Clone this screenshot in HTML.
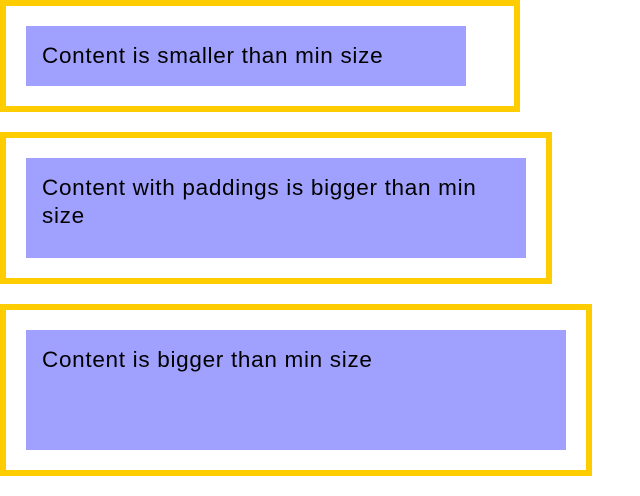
<!DOCTYPE html>
<html><head><style>
body{margin:0;width:640px;height:496px;background:#fff;position:relative;overflow:hidden;font-family:"Liberation Sans",sans-serif;}
.o{position:absolute;border:6px solid #ffcc00;box-sizing:border-box;left:0;}
.b{position:absolute;background:#a0a0ff;box-sizing:border-box;padding:16px 16px;font-size:22.5px;line-height:28px;letter-spacing:0.7px;color:#000;white-space:nowrap;left:26px;}
</style></head><body>
<div class="o" style="top:0;width:520px;height:112px"></div>
<div class="b" style="top:26px;width:440px;height:60px">Content is smaller than min size</div>
<div class="o" style="top:132px;width:552px;height:152px"></div>
<div class="b" style="top:158px;width:500px;height:100px">Content with paddings is bigger than min<br>size</div>
<div class="o" style="top:304px;width:592px;height:172px"></div>
<div class="b" style="top:330px;width:540px;height:120px">Content is bigger than min size</div>
</body></html>
